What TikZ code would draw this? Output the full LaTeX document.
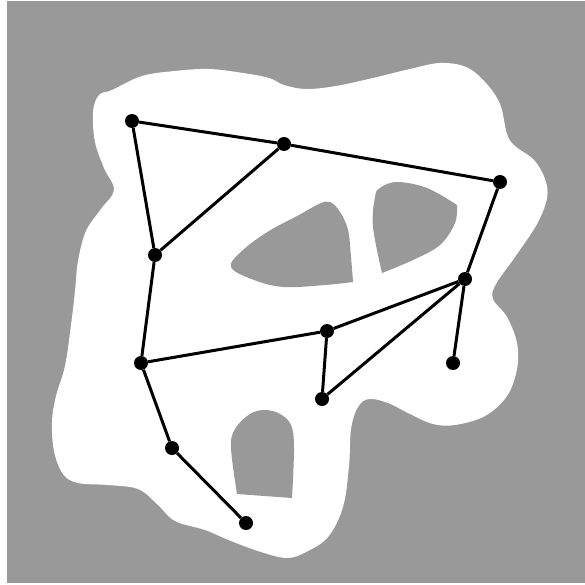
\documentclass[tikz,border=0pt]{standalone}
\definecolor{bggray}{HTML}{999999}
\tikzset{
  dot/.style={circle, fill=black, inner sep=0pt, minimum size=14pt},
  edge/.style={line width=3pt},
  hole/.style={fill=bggray}
}
\begin{document}
\begin{tikzpicture}[x=1pt, y=-1pt]
  \useasboundingbox (0,0) rectangle (585,585);
  \fill[white] (0,0) rectangle (585,585);
  \fill[bggray] (7,1) rectangle (585,583);

  % free region
  \fill[white] plot[smooth cycle, tension=0.6] coordinates {
    (93,112) (99,95) (112,90) (142,76) (175,71) (209,69) (243,73) (269,78)
    (284,85) (306,89) (336,86) (373,78) (410,69) (440,63) (466,67) (485,82)
    (500,104) (507,134) (515,146) (534,160) (545,179) (547,198) (537,224)
    (515,257) (496,284) (493,299) (507,317) (517,343) (517,369) (507,396)
    (485,416) (455,425) (433,424) (410,414) (388,403) (369,399) (358,407)
    (351,429) (349,466) (343,507) (328,537) (306,552) (287,558) (261,552)
    (231,541) (205,530) (175,521) (157,504) (138,489) (108,485) (78,483)
    (63,474) (54,451) (52,422) (56,396) (65,366) (71,325) (75,291) (78,261)
    (86,231) (101,209) (114,190) (104,168) (95,142)};

  % obstacles
  \fill[hole] plot[smooth, tension=0.6] coordinates {(353,282) (325,285) (284,287) (254,280) (231,267) (243,250) (269,231) (299,215) (319,204) (330,202) (340,212) (348,230) (351,257) (353,282)} -- cycle;
  \fill[hole] plot[smooth, tension=0.6] coordinates {(382,273) (373,227) (375,197) (380,188) (397,182) (427,188) (457,205)}
    -- plot[smooth, tension=0.6] coordinates {(457,205) (455,223) (440,245) (413,260) (382,273)} -- cycle;
  \fill[hole] plot[smooth, tension=0.6] coordinates {(237,494) (231,448) (235,429) (250,414) (265,410) (280,414) (291,425) (294,448) (292,498)} -- cycle;

  % roadmap
  \node[dot] (a) at (132,121) {};
  \node[dot] (b) at (284,144) {};
  \node[dot] (c) at (500,182) {};
  \node[dot] (d) at (155,255) {};
  \node[dot] (e) at (465,279) {};
  \node[dot] (f) at (327,331) {};
  \node[dot] (g) at (141,363) {};
  \node[dot] (h) at (453,363) {};
  \node[dot] (i) at (322,399) {};
  \node[dot] (j) at (172,448) {};
  \node[dot] (k) at (246,523) {};

  \draw[edge] (a) -- (b);
  \draw[edge] (b) -- (c);
  \draw[edge] (a) -- (d);
  \draw[edge] (b) -- (d);
  \draw[edge] (c) -- (e);
  \draw[edge] (d) -- (g);
  \draw[edge] (g) -- (f);
  \draw[edge] (f) -- (e);
  \draw[edge] (f) -- (i);
  \draw[edge] (i) -- (e);
  \draw[edge] (e) -- (h);
  \draw[edge] (g) -- (j);
  \draw[edge] (j) -- (k);
\end{tikzpicture}
\end{document}
